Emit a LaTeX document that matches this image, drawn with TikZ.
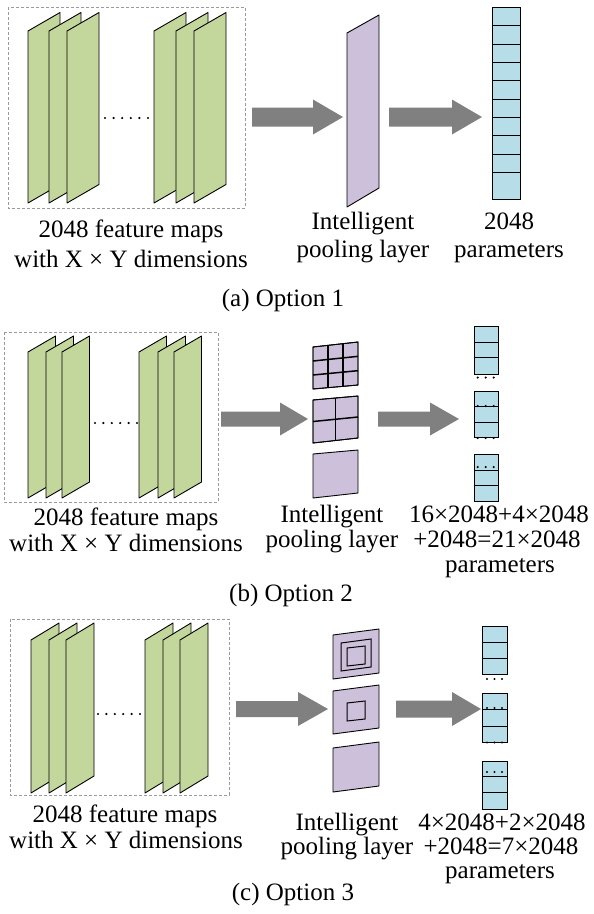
\documentclass[tikz,border=0pt]{standalone}
\usepackage{fontspec}
\setmainfont{Liberation Serif}
\usetikzlibrary{calc}
\definecolor{fgreen}{HTML}{C3D69B}
\definecolor{fpurple}{HTML}{CCC0DA}
\definecolor{fblue}{HTML}{B7DEE8}
\definecolor{agray}{HTML}{808080}
\definecolor{dgray}{HTML}{9A9A9A}
\newcommand\fmapP[5]{\draw[fmap] (#1,#2) -- (#1,{#2-#4}) -- ({#1+#3},{#2-#4-#5}) -- ({#1+#3},{#2-#5}) -- cycle;}
\newcommand\barrowP[6]{\fill[barrow] (#1,{#4-#5}) -- (#2,{#4-#5}) -- (#2,{#4-#6}) -- (#3,#4) -- (#2,{#4+#6}) -- (#2,{#4+#5}) -- (#1,{#4+#5}) -- cycle;}
% name, x0, x1, yTL, yTR, yBR, yBL
\newcommand\poolsq[7]{%
  \coordinate (#1-tl) at (#2,#4); \coordinate (#1-tr) at (#3,#5);
  \coordinate (#1-br) at (#3,#6); \coordinate (#1-bl) at (#2,#7);
  \draw[pool] (#1-tl) -- (#1-tr) -- (#1-br) -- (#1-bl) -- cycle;}
\newcommand\dotrow[4]{\foreach \k in {0,...,#3} \fill ({#1+\k*#4},#2) circle (1.2);}
\begin{document}
\begin{tikzpicture}[x=1pt,y=-1pt,
  fmap/.style={fill=fgreen,draw=black,line width=0.9pt,line join=round},
  pool/.style={fill=fpurple,draw=black,line width=0.9pt,line join=round},
  cell/.style={fill=fblue,draw=black,line width=0.9pt},
  cline/.style={draw=black,line width=0.9pt},
  gridline/.style={draw=black,line width=1.5pt},
  inner/.style={draw=black,line width=1pt},
  barrow/.style={fill=agray},
  dbox/.style={draw=dgray,line width=0.8pt,dash pattern=on 3pt off 2pt},
  lbl/.style={anchor=base,inner sep=0pt,font=\fontsize{25}{30}\selectfont}
]
\useasboundingbox (0,0) rectangle (594,914);

% ================= (a) =================
\draw[dbox] (8,7) rectangle (245,208);
\foreach \l in {28,49,67,154,176,194} {\fmapP{\l}{203}{32}{172}{18.5}}
\dotrow{105}{118}{5}{8.6}
\barrowP{252}{313}{343}{117}{9.5}{17.5}
\draw[pool] (347,207) -- (347,33) -- (379,15) -- (379,188) -- cycle;
\barrowP{389}{452}{482}{117}{9.5}{17.5}
\draw[cell] (492,7.3) rectangle (520,199.3);
\foreach \y in {25.7,44,62.3,80.7,99,117.3,135.7,154,172.3} \draw[cline] (492,\y) -- (520,\y);

\node[lbl] (a-l1) at (131,237) {2048 feature maps};
\node[lbl] (a-l2) at (131,267) {with X × Y dimensions};
\node[lbl] (a-m1) at (363,229) {Intelligent};
\node[lbl] (a-m2) at (363,257) {pooling layer};
\node[lbl] (a-r1) at (509,229) {2048};
\node[lbl] (a-r2) at (509,257) {parameters};
\node[lbl] (a-cap) at (283,306) {(a) Option 1};

% ================= (b) =================
\draw[dbox] (4,332) rectangle (218,502);
\foreach \l in {28,46,62,139,158,174} {\fmapP{\l}{498}{27.5}{146}{16}}
\dotrow{95}{423}{5}{8.4}
\barrowP{221}{280}{308}{419}{7.5}{16.5}
\poolsq{b1}{313}{358}{347}{342}{385}{389}
\foreach \f in {1/3,2/3} {
  \draw[gridline] ($(b1-tl)!\f!(b1-tr)$) -- ($(b1-bl)!\f!(b1-br)$);
  \draw[gridline] ($(b1-tl)!\f!(b1-bl)$) -- ($(b1-tr)!\f!(b1-br)$);}
\draw[draw=black,line width=0.9pt] (b1-tl) -- (b1-tr) -- (b1-br) -- (b1-bl) -- cycle;
\poolsq{b2}{313}{358}{400}{396}{438}{443}
\draw[gridline] ($(b2-tl)!0.5!(b2-tr)$) -- ($(b2-bl)!0.5!(b2-br)$);
\draw[gridline] ($(b2-tl)!0.5!(b2-bl)$) -- ($(b2-tr)!0.5!(b2-br)$);
\draw[draw=black,line width=0.9pt] (b2-tl) -- (b2-tr) -- (b2-br) -- (b2-bl) -- cycle;
\poolsq{b3}{313}{358}{454}{450}{493}{498}
\barrowP{378}{430}{459}{419}{7.5}{16.5}
\draw[cell] (474,326) rectangle (498,374);
\foreach \y in {342,357} \draw[cline] (474,\y) -- (498,\y);
\draw[cell] (474,391) rectangle (498,437);
\foreach \y in {406,422} \draw[cline] (474,\y) -- (498,\y);
\draw[cell] (474,454) rectangle (498,501);
\foreach \y in {470,485} \draw[cline] (474,\y) -- (498,\y);
\dotrow{477.7}{377.5}{2}{8}
\dotrow{477.7}{406}{2}{8}
\dotrow{477.7}{438}{2}{8}
\dotrow{477.7}{467}{2}{8}

\node[lbl] (b-l1) at (126,525) {2048 feature maps};
\node[lbl] (b-l2) at (126,551) {with X × Y dimensions};
\node[lbl] (b-m1) at (332,522) {Intelligent};
\node[lbl] (b-m2) at (332,547) {pooling layer};
\node[lbl] (b-r1) at (499,522) {16×2048+4×2048};
\node[lbl] (b-r2) at (497,547) {+2048=21×2048};
\node[lbl] (b-r3) at (500,572) {parameters};
\node[lbl] (b-cap) at (291,601) {(b) Option 2};

% ================= (c) =================
\draw[dbox] (10,619) rectangle (229,795);
\foreach \l in {31,49,66,145,163,180} {\fmapP{\l}{793}{28}{153}{17}}
\dotrow{98}{714}{5}{8.4}
\barrowP{236}{298}{328}{709}{8}{17}
\poolsq{c1}{333}{379}{635}{629}{673}{679}
\draw[inner] (341,643) -- (371,639) -- (371,667) -- (341,671) -- cycle;
\draw[inner] (347,648) -- (365,646) -- (365,664) -- (347,666) -- cycle;
\poolsq{c2}{333}{379}{691}{685}{728}{734}
\draw[inner] (347,703) -- (365,701) -- (365,719) -- (347,721) -- cycle;
\poolsq{c3}{333}{379}{748}{742}{786}{792}
\barrowP{396}{452}{481}{709}{8.5}{17}
\draw[cell] (482,626) rectangle (507,674);
\foreach \y in {642,658} \draw[cline] (482,\y) -- (507,\y);
\draw[cell] (482,693) rectangle (507,742);
\foreach \y in {709,726} \draw[cline] (482,\y) -- (507,\y);
\draw[cell] (482,761) rectangle (507,809);
\foreach \y in {776,792} \draw[cline] (482,\y) -- (507,\y);
\dotrow{487}{679}{2}{7.5}
\dotrow{487}{708}{2}{7.5}
\dotrow{487}{742.5}{2}{7.5}
\dotrow{487}{772}{2}{7.5}

\node[lbl] (c-l1) at (125,822) {2048 feature maps};
\node[lbl] (c-l2) at (126,848) {with X × Y dimensions};
\node[lbl] (c-m1) at (347,830) {Intelligent};
\node[lbl] (c-m2) at (347,854) {pooling layer};
\node[lbl] (c-r1) at (502,830) {4×2048+2×2048};
\node[lbl] (c-r2) at (501,854) {+2048=7×2048};
\node[lbl] (c-r3) at (500,878) {parameters};
\node[lbl] (c-cap) at (293,900) {(c) Option 3};
\end{tikzpicture}
\end{document}
